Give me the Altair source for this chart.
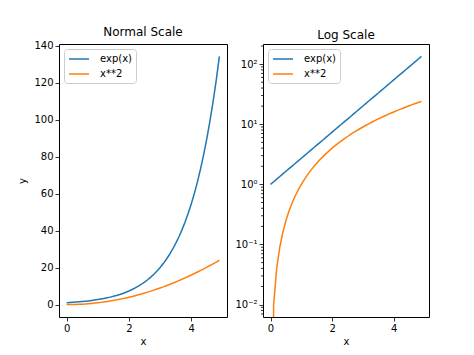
import altair as alt
import pandas as pd

xs = [0.0, 0.1, 0.2, 0.3, 0.4, 0.5, 0.6, 0.7, 0.8, 0.9,
      1.0, 1.1, 1.2, 1.3, 1.4, 1.5, 1.6, 1.7, 1.8, 1.9,
      2.0, 2.1, 2.2, 2.3, 2.4, 2.5, 2.6, 2.7, 2.8, 2.9,
      3.0, 3.1, 3.2, 3.3, 3.4, 3.5, 3.6, 3.7, 3.8, 3.9,
      4.0, 4.1, 4.2, 4.3, 4.4, 4.5, 4.6, 4.7, 4.8, 4.9]
exp_vals = [1.0, 1.105, 1.221, 1.350, 1.492, 1.649, 1.822, 2.014, 2.226, 2.460,
            2.718, 3.004, 3.320, 3.669, 4.055, 4.482, 4.953, 5.474, 6.050, 6.686,
            7.389, 8.166, 9.025, 9.974, 11.02, 12.18, 13.46, 14.88, 16.44, 18.17,
            20.09, 22.20, 24.53, 27.11, 29.96, 33.12, 36.60, 40.45, 44.70, 49.40,
            54.60, 60.34, 66.69, 73.70, 81.45, 90.02, 99.48, 109.9, 121.5, 134.3]
sq_vals = [0.0, 0.01, 0.04, 0.09, 0.16, 0.25, 0.36, 0.49, 0.64, 0.81,
           1.0, 1.21, 1.44, 1.69, 1.96, 2.25, 2.56, 2.89, 3.24, 3.61,
           4.0, 4.41, 4.84, 5.29, 5.76, 6.25, 6.76, 7.29, 7.84, 8.41,
           9.0, 9.61, 10.24, 10.89, 11.56, 12.25, 12.96, 13.69, 14.44, 15.21,
           16.0, 16.81, 17.64, 18.49, 19.36, 20.25, 21.16, 22.09, 23.04, 24.01]
series = ["exp(x)", "x**2"]
colors = ["#1f77b4", "#ff7f0e"]
log_major = [0.01, 0.1, 1, 10, 100]
log_minor = [0.007, 0.008, 0.009,
             0.02, 0.03, 0.04, 0.05, 0.06, 0.07, 0.08, 0.09,
             0.2, 0.3, 0.4, 0.5, 0.6, 0.7, 0.8, 0.9,
             2, 3, 4, 5, 6, 7, 8, 9,
             20, 30, 40, 50, 60, 70, 80, 90, 200]

rows = []
for x, e, s in zip(xs, exp_vals, sq_vals):
    rows.append({"x": x, "y": e, "ylog": e, "series": series[0]})
    # zero cannot sit on a log axis: push it far below the visible range (clipped)
    rows.append({"x": x, "y": s, "ylog": s if s > 0 else 1e-9, "series": series[1]})
df = pd.DataFrame(rows)
minor_df = pd.DataFrame({"v": log_minor})

color = alt.Color("series:N", scale=alt.Scale(domain=series, range=colors),
                  legend=alt.Legend(title=None, orient="top-left", offset=5,
                                    symbolType="M-1,0H3", symbolSize=100,
                                    symbolStrokeWidth=1.5, labelFontSize=10,
                                    strokeColor="#cccccc", fillColor="white",
                                    cornerRadius=3, padding=4, rowPadding=4,
                                    labelOffset=20))

xenc = alt.X("x:Q", title="x", scale=alt.Scale(domain=[-0.245, 5.145], nice=False, zero=False),
             axis=alt.Axis(values=[0, 2, 4], labelFlush=False))

left = alt.Chart(df).mark_line(strokeWidth=1.5).encode(
    x=xenc,
    y=alt.Y("y:Q", title="y", scale=alt.Scale(domain=[-6.7, 141.0], nice=False, zero=False),
            axis=alt.Axis(values=[0, 20, 40, 60, 80, 100, 120, 140], titlePadding=6)),
    color=color,
).properties(width=168, height=273, title="Normal Scale")

label_expr = ("datum.value == 0.01 ? '10⁻²' : datum.value == 0.1 ? '10⁻¹' : "
              "datum.value == 1 ? '10⁰' : datum.value == 10 ? '10¹' : '10²'")
yscale_log = alt.Scale(type="log", domain=[0.00622, 216], nice=False)

right_lines = alt.Chart(df).mark_line(strokeWidth=1.5, clip=True).encode(
    x=xenc,
    y=alt.Y("ylog:Q", title=None, scale=yscale_log,
            axis=alt.Axis(values=log_major, labelExpr=label_expr)),
    color=color,
)
minor_ticks = alt.Chart(minor_df).mark_rule(color="black", strokeWidth=0.8).encode(
    x=alt.value(0), x2=alt.value(-2),
    y=alt.Y("v:Q", scale=yscale_log),
)
right = alt.layer(right_lines, minor_ticks).properties(width=166, height=273, title="Log Scale")

chart = alt.hconcat(left, right, spacing=6).resolve_legend(color="independent").configure(
    font="DejaVu Sans",
    padding={"left": 9, "top": 17, "right": 5, "bottom": 5},
).configure_view(
    stroke="black", strokeWidth=1,
).configure_axis(
    grid=False, domain=False, tickColor="black", tickSize=4, tickWidth=0.8,
    labelColor="black", labelFontSize=10, labelPadding=2,
    titleColor="black", titleFontSize=10, titleFontWeight="normal", titlePadding=3,
).configure_title(
    fontSize=12, fontWeight="normal", color="black", offset=2,
)

chart.save("out.html", embed_options={"renderer": "svg", "actions": False})
